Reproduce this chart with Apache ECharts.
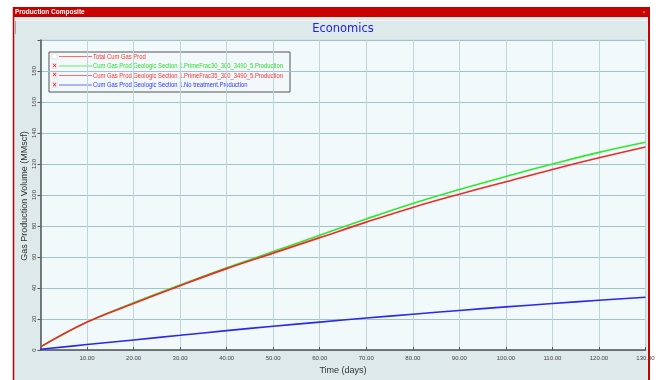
<!DOCTYPE html>
<html>
<head>
<meta charset="utf-8">
<script src="https://cdn.jsdelivr.net/npm/echarts@6/dist/echarts.min.js"></script>
<style>
  html, body { margin: 0; padding: 0; background: #ffffff; }
  #chart { width: 658px; height: 380px; }
</style>
</head>
<body>
<div id="chart"></div>
<script>
// Time axis samples (days)
const days = [0, 10, 20, 30, 40, 50, 60, 70, 80, 90, 100, 110, 120, 130];

// Cumulative gas production (MMscf)
const primeFrac30 = [2, 18, 30.5, 42, 53, 63.5, 74, 84.5, 94.5, 103.5, 112, 120, 127.5, 134];
const primeFrac35 = [2, 18, 30, 41.5, 52.5, 62.5, 72.5, 82.5, 92, 100.5, 108.5, 116.5, 124, 131];
const noTreatment = [0.5, 3.5, 6.5, 9.5, 12.5, 15.3, 18, 20.6, 23.1, 25.5, 27.8, 30, 32.1, 34];

// Legend entries: label, colour, checkbox state
const legendNames = [
  'Total Cum Gas Prod',
  'Cum Gas Prod Geologic Section 1.PrimeFrac30_300_3490_5.Production',
  'Cum Gas Prod Geologic Section 1.PrimeFrac35_300_3490_5.Production',
  'Cum Gas Prod Geologic Section 1.No treatment.Production'
];
const legendColors = ['#ff3030', '#30e030', '#ff3030', '#3030ff'];
const legendChecked = [false, true, true, true];

const chartTitle = 'Economics';
const windowTitle = 'Production Composite';
const xName = 'Time (days)';
const yName = 'Gas Production Volume (MMscf)';

const pairs = vals => days.map((d, i) => [d, vals[i]]);

const chart = echarts.init(document.getElementById('chart'), null, { renderer: 'canvas' });

// Legend box drawn as a graphic group
const legendChildren = [{
  type: 'rect',
  shape: { x: 0, y: 0, width: 241, height: 40 },
  style: { fill: '#f3f9fb', stroke: '#555555', lineWidth: 1 }
}];
legendNames.forEach((name, i) => {
  const cy = 4.5 + i * 9.5;
  legendChildren.push({
    type: 'rect',
    shape: { x: 3, y: cy - 2.5, width: 5, height: 5 },
    style: { fill: '#ffffff', stroke: '#cccccc', lineWidth: 0.5 }
  });
  if (legendChecked[i]) {
    legendChildren.push({
      type: 'text',
      style: { x: 5.5, y: cy, text: '×', fill: '#e02020', font: 'bold 7px "Liberation Sans"', align: 'center', verticalAlign: 'middle' }
    });
  }
  legendChildren.push({
    type: 'line',
    shape: { x1: 10, y1: cy, x2: 43, y2: cy },
    style: { stroke: legendColors[i], lineWidth: 1, opacity: 0.7 }
  });
  legendChildren.push({
    type: 'text',
    x: 44, y: cy, scaleX: 0.78,
    style: { x: 0, y: 0, text: name, fill: legendColors[i], font: '7.5px "Liberation Sans", Arial', verticalAlign: 'middle' }
  });
});

const option = {
  animation: false,
  backgroundColor: '#ffffff',
  graphic: [
    // window frame and panel
    { type: 'rect', z: -10, shape: { x: 13, y: 17, width: 637, height: 363 }, style: { fill: '#dde9ea' } },
    { type: 'rect', z: -10, shape: { x: 13, y: 7, width: 637, height: 10 }, style: { fill: '#c80000' } },
    { type: 'line', z: -9, shape: { x1: 13.5, y1: 7, x2: 13.5, y2: 380 }, style: { stroke: '#c80000', lineWidth: 1.5 } },
    { type: 'line', z: -9, shape: { x1: 649, y1: 7, x2: 649, y2: 380 }, style: { stroke: '#c80000', lineWidth: 2 } },
    { type: 'line', z: -9, shape: { x1: 15.5, y1: 20, x2: 15.5, y2: 34 }, style: { stroke: '#a0a8a8', lineWidth: 1 } },
    { type: 'line', z: -9, shape: { x1: 15, y1: 20.5, x2: 646, y2: 20.5 }, style: { stroke: '#f2f8f8', lineWidth: 1 } },
    {
      type: 'text', z: 5,
      style: { x: 15, y: 12.5, text: windowTitle, fill: '#ffffff', font: 'bold 6.5px "Liberation Sans", Arial', verticalAlign: 'middle' }
    },
    {
      type: 'text', z: 5,
      style: { x: 644, y: 12, text: '×', fill: '#c89090', font: '6px "Liberation Sans"', align: 'center', verticalAlign: 'middle' }
    },
    {
      type: 'text', z: 5,
      style: { x: 343, y: 29, text: chartTitle, fill: '#2323e6', font: '11.5px "DejaVu Sans", Verdana', align: 'center', verticalAlign: 'middle' }
    },
    // y-axis title, vertical
    {
      type: 'text', z: 5, x: 25, y: 196, rotation: Math.PI / 2,
      style: { x: 0, y: 0, text: yName, fill: '#333333', font: '9px "Liberation Sans", Arial', align: 'center', verticalAlign: 'middle' }
    },
    { type: 'group', x: 49, y: 52, z: 20, children: legendChildren }
  ],
  grid: {
    left: 40.5, right: 12.5, top: 40, bottom: 30,
    show: true, backgroundColor: '#f2f9fb', borderColor: '#c8d8da', borderWidth: 1
  },
  xAxis: {
    type: 'value', min: 0, max: 130, interval: 10,
    name: xName, nameLocation: 'middle', nameGap: 15,
    nameTextStyle: { fontFamily: 'Liberation Sans', fontSize: 9, color: '#333333' },
    axisLine: { show: true, lineStyle: { color: '#555555', width: 1.5 } },
    axisTick: { show: true, inside: true, length: 3, lineStyle: { color: '#555555' } },
    axisLabel: {
      fontFamily: 'Liberation Sans', fontSize: 6, color: '#444444', margin: 5,
      formatter: v => (v === 0 ? '' : v.toFixed(2))
    },
    splitLine: { show: true, lineStyle: { color: '#bcd6da', width: 1 } }
  },
  yAxis: {
    type: 'value', min: 0, max: 200, interval: 20,
    axisLine: { show: true, lineStyle: { color: '#555555', width: 1.5 } },
    axisTick: { show: true, length: 3, lineStyle: { color: '#555555' } },
    axisLabel: {
      fontFamily: 'Liberation Sans', fontSize: 6, color: '#444444', margin: 3, rotate: 90,
      formatter: v => (v === 200 ? '' : String(v))
    },
    splitLine: { show: true, lineStyle: { color: '#9fc3c8', width: 1 } }
  },
  series: [
    {
      name: legendNames[1], type: 'line', data: pairs(primeFrac30), smooth: 0.4, symbol: 'none',
      lineStyle: { color: '#2ee82e', width: 1.6 }, z: 3
    },
    {
      name: legendNames[2], type: 'line', data: pairs(primeFrac35), smooth: 0.4, symbol: 'none',
      lineStyle: { color: '#f02828', width: 1.6 }, z: 4
    },
    {
      name: legendNames[3], type: 'line', data: pairs(noTreatment), smooth: 0.4, symbol: 'none',
      lineStyle: { color: '#2828f0', width: 1.6 }, z: 4
    }
  ]
};

chart.setOption(option);
</script>
</body>
</html>
